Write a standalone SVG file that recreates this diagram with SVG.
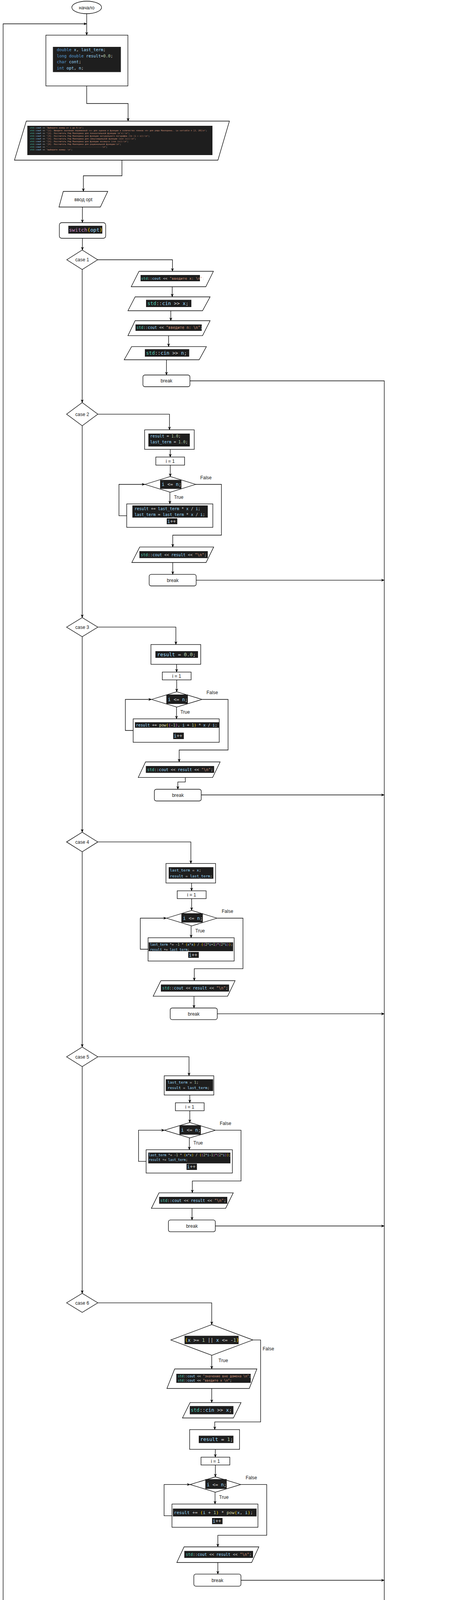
<svg xmlns="http://www.w3.org/2000/svg" width="1160" height="4882" viewBox="0 0 1160 4882">
<defs>
<style>
.ln{fill:none;stroke:#000;stroke-width:1.3}
.sh{fill:#fff;stroke:#000;stroke-width:1.3}
.cb{fill:#1e1e1e}
.t{font-family:"Liberation Sans",Arial,Helvetica,sans-serif;font-size:12px;fill:#1a1a1a;text-anchor:middle}
.c{font-family:"DejaVu Sans Mono","Liberation Mono",monospace;fill:#d4d4d4}
.ns{fill:#4ec9b0}.v{fill:#9cdcfe}.s{fill:#ce9178}.n{fill:#b5cea8}.k{fill:#569cd6}.f{fill:#dcdcaa}.kc{fill:#c586c0}.b1{fill:#ffd700}.b2{fill:#da70d6}.b3{fill:#179fff}
</style>
<marker id="a" viewBox="0 0 10 10" refX="9" refY="5" markerWidth="9" markerHeight="9" markerUnits="userSpaceOnUse" orient="auto"><path d="M0,1 L10,5 L0,9 L3,5 Z" fill="#000"/></marker>
</defs>
<rect width="1160" height="4882" fill="#fff"/>
<g id="connectors">
<path class="ln" d="M222,35 V90" marker-end="url(#a)"/>
<path class="ln" d="M222,220 V265 H328 V310" marker-end="url(#a)"/>
<path class="ln" d="M312.3,410 V450 H213.5 V490" marker-end="url(#a)"/>
<path class="ln" d="M211,530 V570" marker-end="url(#a)"/>
<path class="ln" d="M211,610 V640" marker-end="url(#a)"/>
<path class="ln" d="M250,665 H441.6 V694.5" marker-end="url(#a)"/>
<path class="ln" d="M441,734 V760" marker-end="url(#a)"/>
<path class="ln" d="M437.4,795.5 V821" marker-end="url(#a)"/>
<path class="ln" d="M431.7,859.4 V887.4" marker-end="url(#a)"/>
<path class="ln" d="M426.3,921 V960" marker-end="url(#a)"/>
<path class="ln" d="M486.4,975 H984 V4380" marker-end="url(#a)"/>
<path class="ln" d="M210.5,690 V1030.6" marker-end="url(#a)"/>
<path class="ln" d="M250.5,1060.3 H434 V1100.4" marker-end="url(#a)"/>
<path class="ln" d="M436,1150.5 V1170" marker-end="url(#a)"/>
<path class="ln" d="M436,1190.7 V1220" marker-end="url(#a)"/>
<path class="ln" d="M435,1260 V1290" marker-end="url(#a)"/>
<path class="ln" d="M501,1240 H567 V1370 H442.4 V1400.4" marker-end="url(#a)"/>
<path class="ln" d="M324.5,1320.4 H304.6 V1240 H371" marker-end="url(#a)"/>
<path class="ln" d="M442.4,1440 V1470.4" marker-end="url(#a)"/>
<path class="ln" d="M502.4,1485.3 H984" marker-end="url(#a)"/>
<path class="ln" d="M210.5,1090 V1581" marker-end="url(#a)"/>
<path class="ln" d="M250.5,1605.4 H450.4 V1650" marker-end="url(#a)"/>
<path class="ln" d="M452.3,1700.6 V1720.5" marker-end="url(#a)"/>
<path class="ln" d="M452.5,1740.4 V1771" marker-end="url(#a)"/>
<path class="ln" d="M452,1810 V1840.3" marker-end="url(#a)"/>
<path class="ln" d="M517.3,1790.5 H584 V1920 H458.8 V1950.5" marker-end="url(#a)"/>
<path class="ln" d="M341,1870 H321 V1790.5 H388" marker-end="url(#a)"/>
<path class="ln" d="M474.5,1990.3 V2001.8 H455.4 V2020.5" marker-end="url(#a)"/>
<path class="ln" d="M515.4,2035 H984" marker-end="url(#a)"/>
<path class="ln" d="M210.5,1630 V2130.4" marker-end="url(#a)"/>
<path class="ln" d="M250.5,2155.4 H488.7 V2210.5" marker-end="url(#a)"/>
<path class="ln" d="M490.6,2260.6 V2280.5" marker-end="url(#a)"/>
<path class="ln" d="M490.7,2300.4 V2330.6" marker-end="url(#a)"/>
<path class="ln" d="M489.4,2370.4 V2400.6" marker-end="url(#a)"/>
<path class="ln" d="M555.6,2350.5 H622.2 V2479.9 H497.5 V2510.5" marker-end="url(#a)"/>
<path class="ln" d="M379.2,2430 H359.3 V2350.5 H426.3" marker-end="url(#a)"/>
<path class="ln" d="M496.7,2550.3 V2580.5" marker-end="url(#a)"/>
<path class="ln" d="M556.4,2595.4 H984" marker-end="url(#a)"/>
<path class="ln" d="M210.5,2180.5 V2680.4" marker-end="url(#a)"/>
<path class="ln" d="M250.5,2705.4 H484 V2754" marker-end="url(#a)"/>
<path class="ln" d="M486,2803.3 V2823.2" marker-end="url(#a)"/>
<path class="ln" d="M486,2843.5 V2873.7" marker-end="url(#a)"/>
<path class="ln" d="M484.8,2913.1 V2943.4" marker-end="url(#a)"/>
<path class="ln" d="M551.4,2893.4 H617.2 V3023.3 H492.5 V3053.6" marker-end="url(#a)"/>
<path class="ln" d="M374.2,2973.2 H354.7 V2893.4 H421" marker-end="url(#a)"/>
<path class="ln" d="M491.7,3093.4 V3123.2" marker-end="url(#a)"/>
<path class="ln" d="M551.4,3138.5 H984" marker-end="url(#a)"/>
<path class="ln" d="M210.5,2730.5 V3311" marker-end="url(#a)"/>
<path class="ln" d="M250.5,3335.3 H542.2 V3391" marker-end="url(#a)"/>
<path class="ln" d="M542.2,3469.6 V3504.5" marker-end="url(#a)"/>
<path class="ln" d="M647.5,3430.3 H667.4 V3640.2 H549.9 V3659.8" marker-end="url(#a)"/>
<path class="ln" d="M542.2,3554.5 V3590.6" marker-end="url(#a)"/>
<path class="ln" d="M551.4,3710.3 V3730.4" marker-end="url(#a)"/>
<path class="ln" d="M551.5,3750.4 V3780.8" marker-end="url(#a)"/>
<path class="ln" d="M550.6,3820 V3850.4" marker-end="url(#a)"/>
<path class="ln" d="M616.5,3800.4 H683 V3930.4 H557.8 V3960" marker-end="url(#a)"/>
<path class="ln" d="M440.4,3880.4 H420.2 V3800.4 H486.7" marker-end="url(#a)"/>
<path class="ln" d="M557.8,4000 V4029.7" marker-end="url(#a)"/>
<path class="ln" d="M617,4045.5 H984" marker-end="url(#a)"/>
<path class="ln" d="M984,4430.5 V4454.8 H954.4 V4479.9" marker-end="url(#a)"/>
<path class="ln" d="M954.4,4540.4 V4620" marker-end="url(#a)"/>
<path class="ln" d="M749.4,4660 H8 V61 H222" marker-end="url(#a)"/>
<path class="ln" d="M954.4,4700.3 V4819.5" marker-end="url(#a)"/>
<text class="t" x="457.5" y="1277">True</text>
<text class="t" x="527.3" y="1227">False</text>
<text class="t" x="474" y="1827">True</text>
<text class="t" x="543.4" y="1777">False</text>
<text class="t" x="512.4" y="2386.5">True</text>
<text class="t" x="582.4" y="2337">False</text>
<text class="t" x="507.4" y="2930">True</text>
<text class="t" x="577.4" y="2880">False</text>
<text class="t" x="571.7" y="3487">True</text>
<text class="t" x="687.2" y="3457">False</text>
<text class="t" x="573.2" y="3837">True</text>
<text class="t" x="643.6" y="3787">False</text>
<text class="t" x="660" y="4687">True</text>
<text class="t" x="979.5" y="4737">False</text>
</g>
<g id="start">
<ellipse class="sh" cx="222" cy="19" rx="38" ry="16"/>
<text class="t" x="222" y="23.5">начало</text>
</g>
<g id="decl">
<rect class="sh" x="117.5" y="90" width="210" height="130"/>
<rect class="cb" x="135.5" y="120" width="174" height="64.5"/>
<text class="c" x="145.4" y="131" font-size="10.4"><tspan class="k">double</tspan> <tspan class="v">x</tspan>, <tspan class="v">last_term</tspan>;</text>
<text class="c" x="145.4" y="146.5" font-size="10.4"><tspan class="k">long double</tspan> <tspan class="v">result</tspan>=<tspan class="n">0.0</tspan>;</text>
<text class="c" x="145.4" y="162" font-size="10.4"><tspan class="k">char</tspan> <tspan class="v">cont</tspan>;</text>
<text class="c" x="145.4" y="177.5" font-size="10.4"><tspan class="k">int</tspan> <tspan class="v">opt</tspan>, <tspan class="v">n</tspan>;</text>
</g>
<g id="menu">
<polygon class="sh" points="67.4,310 587.5,310 558,410 37,410"/>
<rect class="cb" x="70" y="322" width="474" height="75"/>
<text class="c" x="77" y="328.5" font-size="5.3"><tspan class="ns">std</tspan>::<tspan class="v">cout</tspan> &lt;&lt; <tspan class="s">"Выберите номер от 1 до 6:\n"</tspan>;</text>
<text class="c" x="77" y="335.5" font-size="5.3"><tspan class="ns">std</tspan>::<tspan class="v">cout</tspan> &lt;&lt; <tspan class="s">"[1]. Введите значение переменной «x» для оценки и функции и количество членов «n» для ряда Маклорена.. La variable n [2, 20]\n"</tspan>;</text>
<text class="c" x="77" y="342.5" font-size="5.3"><tspan class="ns">std</tspan>::<tspan class="v">cout</tspan> &lt;&lt; <tspan class="s">"[2]. Рассчитать Ряд Маклорена для показательной функции (e^x):\n"</tspan>;</text>
<text class="c" x="77" y="349.5" font-size="5.3"><tspan class="ns">std</tspan>::<tspan class="v">cout</tspan> &lt;&lt; <tspan class="s">"[3]. Рассчитать Ряд Маклорена для функции натурального логарифма (ln (1 + x)):\n"</tspan>;</text>
<text class="c" x="77" y="356.5" font-size="5.3"><tspan class="ns">std</tspan>::<tspan class="v">cout</tspan> &lt;&lt; <tspan class="s">"[4]. Рассчитать Ряд Маклорена для синусоидальной функции (sin (x)):\n"</tspan>;</text>
<text class="c" x="77" y="363.5" font-size="5.3"><tspan class="ns">std</tspan>::<tspan class="v">cout</tspan> &lt;&lt; <tspan class="s">"[5]. Рассчитать Ряд Маклорена для функции косинуса (cos (x)):\n"</tspan>;</text>
<text class="c" x="77" y="370.5" font-size="5.3"><tspan class="ns">std</tspan>::<tspan class="v">cout</tspan> &lt;&lt; <tspan class="s">"[6]. Рассчитать Ряд Маклорена для рациональной функции:\n"</tspan>;</text>
<text class="c" x="77" y="377.5" font-size="5.3"><tspan class="ns">std</tspan>::<tspan class="v">cout</tspan> &lt;&lt; <tspan class="s">"--------------------------------------------\n"</tspan>;</text>
<text class="c" x="77" y="384.5" font-size="5.3"><tspan class="ns">std</tspan>::<tspan class="v">cout</tspan> &lt;&lt; <tspan class="s">"выберите номер: \n"</tspan>;</text>
</g>
<g id="input_opt">
<polygon class="sh" points="162,490 276,490 257,530 151,530"/>
<text class="t" x="213.5" y="514.5">ввод opt</text>
</g>
<g id="switch">
<rect class="sh" x="152" y="570" width="118.6" height="40" rx="6"/>
<rect class="cb" x="175" y="578" width="87" height="20"/>
<text class="c" x="176.5" y="592.5" font-size="13"><tspan class="kc">switch</tspan><tspan class="b1">(</tspan><tspan class="v">opt</tspan><tspan class="b1">)</tspan></text>
</g>
<g id="case1">
<polygon class="sh" points="171,665 210.5,640 250,665 210.5,690"/>
<text class="t" x="210.5" y="669">case 1</text>
</g>
<g id="c1_out_x">
<polygon class="sh" points="356,694.5 546.5,694.5 527,734 336,734"/>
<rect class="cb" x="360" y="704" width="152" height="16"/>
<text class="c" x="361.5" y="715.5" font-size="9.3"><tspan class="ns">std</tspan>::<tspan class="v">cout</tspan> &lt;&lt; <tspan class="s">"введите x: \n"</tspan>;</text>
</g>
<g id="c1_in_x">
<polygon class="sh" points="346,760 538,760 518.6,795.5 327.6,795.5"/>
<rect class="cb" x="374" y="767.5" width="116" height="18.5"/>
<text class="c" x="377.5" y="781" font-size="12.5"><tspan class="ns">std</tspan>::<tspan class="v">cin</tspan> &gt;&gt; <tspan class="v">x</tspan>;</text>
</g>
<g id="c1_out_n">
<polygon class="sh" points="346,821 538,821 518.6,859.4 327.6,859.4"/>
<rect class="cb" x="347" y="830.6" width="169.6" height="16.4"/>
<text class="c" x="349.4" y="842.3" font-size="9.7"><tspan class="ns">std</tspan>::<tspan class="v">cout</tspan> &lt;&lt; <tspan class="s">"введите n: \n"</tspan>;</text>
</g>
<g id="c1_in_n">
<polygon class="sh" points="337,887.4 528.5,887.4 510,921 318,921"/>
<rect class="cb" x="371" y="894" width="113.5" height="19"/>
<text class="c" x="374" y="908" font-size="12.4"><tspan class="ns">std</tspan>::<tspan class="v">cin</tspan> &gt;&gt; <tspan class="v">n</tspan>;</text>
</g>
<g id="break1">
<rect class="sh" x="366" y="960" width="120.4" height="30" rx="5"/>
<text class="t" x="426.3" y="979">break</text>
</g>
<g id="case2">
<polygon class="sh" points="170.5,1060.3 210.5,1030.6 250.5,1060.3 210.5,1090"/>
<text class="t" x="210.5" y="1064.5">case 2</text>
</g>
<g id="c2_init">
<rect class="sh" x="370.4" y="1100.4" width="127" height="50"/>
<rect class="cb" x="380" y="1110" width="106" height="33"/>
<text class="c" x="384.6" y="1120" font-size="10"><tspan class="v">result</tspan> = <tspan class="n">1.0</tspan>;</text>
<text class="c" x="384.6" y="1135.3" font-size="10"><tspan class="v">last_term</tspan> = <tspan class="n">1.0</tspan>;</text>
</g>
<g id="c2_i">
<rect class="sh" x="399" y="1170" width="73.6" height="20.7"/>
<text class="t" x="436" y="1184.5">i = 1</text>
</g>
<g id="c2_cond">
<polygon class="sh" points="371,1240 436,1220 501,1240 436,1260"/>
<rect class="cb" x="410" y="1228.5" width="54.5" height="23"/>
<text class="c" x="414" y="1244.2" font-size="12"><tspan class="v">i</tspan> &lt;= <tspan class="v">n</tspan>;</text>
</g>
<g id="c2_body">
<rect class="sh" x="324.5" y="1290" width="220.5" height="60"/>
<rect class="cb" x="339" y="1294" width="193" height="31"/>
<text class="c" x="344.4" y="1305.5" font-size="10"><tspan class="v">result</tspan> += <tspan class="v">last_term</tspan> * <tspan class="v">x</tspan> / <tspan class="v">i</tspan>;</text>
<text class="c" x="344.4" y="1321" font-size="10"><tspan class="v">last_term</tspan> = <tspan class="v">last_term</tspan> * <tspan class="v">x</tspan> / <tspan class="v">i</tspan>;</text>
<rect class="cb" x="427" y="1327" width="27" height="15"/>
<text class="c" x="428.5" y="1338.5" font-size="12"><tspan class="v">i</tspan>++</text>
</g>
<g id="c2_out">
<polygon class="sh" points="357.8,1400.4 547.2,1400.4 527.7,1440 337.5,1440"/>
<rect class="cb" x="357" y="1411" width="175" height="17.7"/>
<text class="c" x="360.5" y="1423.5" font-size="10"><tspan class="ns">std</tspan>::<tspan class="v">cout</tspan> &lt;&lt; <tspan class="v">result</tspan> &lt;&lt; <tspan class="s">"\n"</tspan>;</text>
</g>
<g id="break2">
<rect class="sh" x="382" y="1470.4" width="120.4" height="29.6" rx="5"/>
<text class="t" x="442.2" y="1489.5">break</text>
</g>
<g id="case3">
<polygon class="sh" points="170.5,1605.5 210.5,1581 250.5,1605.5 210.5,1630"/>
<text class="t" x="210.5" y="1609.5">case 3</text>
</g>
<g id="c3_init">
<rect class="sh" x="386.5" y="1650" width="127.5" height="50.6"/>
<rect class="cb" x="398" y="1667" width="109" height="17"/>
<text class="c" x="402.6" y="1680" font-size="12.6"><tspan class="v">result</tspan> = <tspan class="n">0.0</tspan>;</text>
</g>
<g id="c3_i">
<rect class="sh" x="415.6" y="1720.5" width="73.8" height="20"/>
<text class="t" x="452.5" y="1734.5">i = 1</text>
</g>
<g id="c3_cond">
<polygon class="sh" points="388,1790.5 452.6,1771 517.3,1790.5 452.6,1810"/>
<rect class="cb" x="426" y="1778" width="55" height="24"/>
<text class="c" x="430" y="1794.5" font-size="12"><tspan class="v">i</tspan> &lt;= <tspan class="v">n</tspan>;</text>
</g>
<g id="c3_body">
<rect class="sh" x="341" y="1840.3" width="220.4" height="60"/>
<rect class="cb" x="345.5" y="1849" width="216" height="14"/>
<text class="c" x="348" y="1859.5" font-size="9.9"><tspan class="v">result</tspan> += <tspan class="f">pow</tspan><tspan class="b1">(</tspan><tspan class="b2">(</tspan>-<tspan class="n">1</tspan><tspan class="b2">)</tspan>, <tspan class="v">i</tspan> + <tspan class="n">1</tspan><tspan class="b1">)</tspan> * <tspan class="v">x</tspan> / <tspan class="v">i</tspan>;</text>
<rect class="cb" x="443.5" y="1875.5" width="27.2" height="16.5"/>
<text class="c" x="445" y="1888" font-size="12"><tspan class="v">i</tspan>++</text>
</g>
<g id="c3_out">
<polygon class="sh" points="372.7,1950.5 563.7,1950.5 544.5,1990.3 354,1990.3"/>
<rect class="cb" x="373.5" y="1961" width="174.8" height="17.5"/>
<text class="c" x="377" y="1973.5" font-size="10"><tspan class="ns">std</tspan>::<tspan class="v">cout</tspan> &lt;&lt; <tspan class="v">result</tspan> &lt;&lt; <tspan class="s">"\n"</tspan>;</text>
</g>
<g id="break3">
<rect class="sh" x="395.3" y="2020.5" width="120" height="30" rx="5"/>
<text class="t" x="455.4" y="2039.5">break</text>
</g>
<g id="case4">
<polygon class="sh" points="170.5,2155.4 210.5,2130.4 250.5,2155.4 210.5,2180.5"/>
<text class="t" x="210.5" y="2159.5">case 4</text>
</g>
<g id="c4_init">
<rect class="sh" x="425" y="2210.5" width="127" height="50"/>
<rect class="cb" x="432" y="2220" width="114.4" height="29.5"/>
<text class="c" x="435" y="2231" font-size="9.5"><tspan class="v">last_term</tspan> = <tspan class="v">x</tspan>;</text>
<text class="c" x="435" y="2245.5" font-size="9.5"><tspan class="v">result</tspan> = <tspan class="v">last_term</tspan>;</text>
</g>
<g id="c4_i">
<rect class="sh" x="453.8" y="2280.5" width="74" height="20"/>
<text class="t" x="490.7" y="2294.5">i = 1</text>
</g>
<g id="c4_cond">
<polygon class="sh" points="426.3,2350.5 491,2330.6 555.6,2350.5 491,2370.4"/>
<rect class="cb" x="464.5" y="2338" width="54.8" height="23.6"/>
<text class="c" x="468.5" y="2354.5" font-size="12"><tspan class="v">i</tspan> &lt;= <tspan class="v">n</tspan>;</text>
</g>
<g id="c4_body">
<rect class="sh" x="379.2" y="2400.6" width="220.4" height="59.7"/>
<rect class="cb" x="380.7" y="2412.5" width="216.3" height="22.5"/>
<text class="c" x="384.2" y="2421" font-size="8.4"><tspan class="v">last_term</tspan> *= -<tspan class="n">1</tspan> * <tspan class="b1">(</tspan><tspan class="v">x</tspan>*<tspan class="v">x</tspan><tspan class="b1">)</tspan> / <tspan class="b1">(</tspan><tspan class="b2">(</tspan><tspan class="n">2</tspan>*<tspan class="v">i</tspan>+<tspan class="n">1</tspan><tspan class="b2">)</tspan>*<tspan class="b2">(</tspan><tspan class="n">2</tspan>*<tspan class="v">i</tspan><tspan class="b2">)</tspan><tspan class="b1">)</tspan>;</text>
<text class="c" x="384.2" y="2433.5" font-size="8.4"><tspan class="v">result</tspan> += <tspan class="v">last_term</tspan>;</text>
<rect class="cb" x="482" y="2437" width="27" height="15"/>
<text class="c" x="483.5" y="2448.5" font-size="12"><tspan class="v">i</tspan>++</text>
</g>
<g id="c4_out">
<polygon class="sh" points="412,2510.5 602,2510.5 582.8,2550.3 392.2,2550.3"/>
<rect class="cb" x="412" y="2520.4" width="174.6" height="18"/>
<text class="c" x="415.5" y="2533" font-size="10"><tspan class="ns">std</tspan>::<tspan class="v">cout</tspan> &lt;&lt; <tspan class="v">result</tspan> &lt;&lt; <tspan class="s">"\n"</tspan>;</text>
</g>
<g id="break4">
<rect class="sh" x="435.8" y="2580.5" width="120.6" height="29.8" rx="5"/>
<text class="t" x="496" y="2599.5">break</text>
</g>
<g id="case5">
<polygon class="sh" points="170.5,2705.5 210.5,2680.4 250.5,2705.5 210.5,2730.5"/>
<text class="t" x="210.5" y="2709.5">case 5</text>
</g>
<g id="c5_init">
<rect class="sh" x="420.5" y="2754" width="127" height="49.3"/>
<rect class="cb" x="424.4" y="2763" width="121.3" height="30"/>
<text class="c" x="429.3" y="2773.8" font-size="9.4"><tspan class="v">last_term</tspan> = <tspan class="n">1</tspan>;</text>
<text class="c" x="429.3" y="2788" font-size="9.4"><tspan class="v">result</tspan> = <tspan class="v">last_term</tspan>;</text>
</g>
<g id="c5_i">
<rect class="sh" x="449.2" y="2823.2" width="73.5" height="20.3"/>
<text class="t" x="486" y="2837.5">i = 1</text>
</g>
<g id="c5_cond">
<polygon class="sh" points="421,2893.4 486,2873.7 551.4,2893.4 486,2913.1"/>
<rect class="cb" x="459.6" y="2880.6" width="54.7" height="24.1"/>
<text class="c" x="463.5" y="2897.3" font-size="12"><tspan class="v">i</tspan> &lt;= <tspan class="v">n</tspan>;</text>
</g>
<g id="c5_body">
<rect class="sh" x="374.2" y="2943.4" width="220.8" height="59.6"/>
<rect class="cb" x="379.6" y="2950.6" width="210.4" height="27.6"/>
<text class="c" x="380.7" y="2960" font-size="8.3"><tspan class="v">last_term</tspan> *= -<tspan class="n">1</tspan> * <tspan class="b1">(</tspan><tspan class="v">x</tspan>*<tspan class="v">x</tspan><tspan class="b1">)</tspan> / <tspan class="b1">(</tspan><tspan class="b2">(</tspan><tspan class="n">2</tspan>*<tspan class="v">i</tspan>-<tspan class="n">1</tspan><tspan class="b2">)</tspan>*<tspan class="b2">(</tspan><tspan class="n">2</tspan>*<tspan class="v">i</tspan><tspan class="b2">)</tspan><tspan class="b1">)</tspan>;</text>
<text class="c" x="380.7" y="2972" font-size="8.3"><tspan class="v">result</tspan> += <tspan class="v">last_term</tspan>;</text>
<rect class="cb" x="477.6" y="2979" width="26.7" height="16"/>
<text class="c" x="479" y="2991" font-size="12"><tspan class="v">i</tspan>++</text>
</g>
<g id="c5_out">
<polygon class="sh" points="407.1,3053.6 597.3,3053.6 577.8,3093.4 387.6,3093.4"/>
<rect class="cb" x="407.5" y="3064" width="174.5" height="17.5"/>
<text class="c" x="410.5" y="3076.5" font-size="10"><tspan class="ns">std</tspan>::<tspan class="v">cout</tspan> &lt;&lt; <tspan class="v">result</tspan> &lt;&lt; <tspan class="s">"\n"</tspan>;</text>
</g>
<g id="break5">
<rect class="sh" x="431.3" y="3123.2" width="120.1" height="30.2" rx="5"/>
<text class="t" x="491.4" y="3142.5">break</text>
</g>
<g id="case6">
<polygon class="sh" points="170.5,3335.3 210.5,3311 250.5,3335.3 210.5,3359.8"/>
<text class="t" x="210.5" y="3339.5">case 6</text>
</g>
<g id="c6_domain">
<polygon class="sh" points="437.4,3430.3 542.4,3391 647.5,3430.3 542.4,3469.6"/>
<rect class="cb" x="472.6" y="3419.6" width="138.4" height="21.4"/>
<text class="c" x="473.5" y="3434.5" font-size="12.1"><tspan class="b1">(</tspan><tspan class="v">x</tspan> &gt;= <tspan class="n">1</tspan> || <tspan class="v">x</tspan> &lt;= -<tspan class="n">1</tspan><tspan class="b1">)</tspan></text>
</g>
<g id="c6_msg">
<polygon class="sh" points="447.3,3504.5 657.8,3504.5 638.3,3554.5 427.4,3554.5"/>
<rect class="cb" x="451.5" y="3517" width="190.5" height="23"/>
<text class="c" x="455.4" y="3525.8" font-size="8.2"><tspan class="ns">std</tspan>::<tspan class="v">cout</tspan> &lt;&lt; <tspan class="s">"значение вне домена \n"</tspan>;</text>
<text class="c" x="455.4" y="3537.4" font-size="8.2"><tspan class="ns">std</tspan>::<tspan class="v">cout</tspan> &lt;&lt; <tspan class="s">"введите x \n"</tspan>;</text>
</g>
<g id="c6_in_x">
<polygon class="sh" points="486.7,3590.6 617.2,3590.6 597.7,3630 467.2,3630"/>
<rect class="cb" x="486" y="3599.5" width="111.7" height="21"/>
<text class="c" x="488.3" y="3614" font-size="12.5"><tspan class="ns">std</tspan>::<tspan class="v">cin</tspan> &gt;&gt; <tspan class="v">x</tspan>;</text>
</g>
<g id="c6_init">
<rect class="sh" x="485.6" y="3659.8" width="127.8" height="50.5"/>
<rect class="cb" x="509" y="3675.4" width="88.7" height="18.8"/>
<text class="c" x="512.8" y="3689" font-size="12.7"><tspan class="v">result</tspan> = <tspan class="n">1</tspan>;</text>
</g>
<g id="c6_i">
<rect class="sh" x="514.7" y="3730.4" width="73.8" height="20"/>
<text class="t" x="551.6" y="3744.5">i = 1</text>
</g>
<g id="c6_cond">
<polygon class="sh" points="486.7,3800.4 551.6,3780.8 616.5,3800.4 551.6,3820"/>
<rect class="cb" x="525.8" y="3786.6" width="54.7" height="25"/>
<text class="c" x="529.5" y="3804.5" font-size="12"><tspan class="v">i</tspan> &lt;= <tspan class="v">n</tspan>;</text>
</g>
<g id="c6_body">
<rect class="sh" x="440.4" y="3850.4" width="220.1" height="59.4"/>
<rect class="cb" x="442.7" y="3862" width="214.3" height="20"/>
<text class="c" x="445.4" y="3876" font-size="11.2"><tspan class="v">result</tspan> += <tspan class="b1">(</tspan><tspan class="v">i</tspan> + <tspan class="n">1</tspan><tspan class="b1">)</tspan> * <tspan class="f">pow</tspan><tspan class="b1">(</tspan><tspan class="v">x</tspan>, <tspan class="v">i</tspan><tspan class="b1">)</tspan>;</text>
<rect class="cb" x="543" y="3886" width="26.8" height="15.8"/>
<text class="c" x="544.5" y="3898" font-size="12"><tspan class="v">i</tspan>++</text>
</g>
<g id="c6_out">
<polygon class="sh" points="471.3,3960 662.9,3960 644.4,4000 452.8,4000"/>
<rect class="cb" x="472" y="3970.4" width="176" height="17.8"/>
<text class="c" x="475.7" y="3983" font-size="10"><tspan class="ns">std</tspan>::<tspan class="v">cout</tspan> &lt;&lt; <tspan class="v">result</tspan> &lt;&lt; <tspan class="s">"\n"</tspan>;</text>
</g>
<g id="break6">
<rect class="sh" x="496.4" y="4029.7" width="120.6" height="30.9" rx="5"/>
<text class="t" x="556.7" y="4049.5">break</text>
</g>
<g id="ask">
<polygon class="sh" points="845.6,4379.8 1139.3,4379.8 1119.4,4430.5 830,4430.5"/>
<rect class="cb" x="849.3" y="4395" width="270" height="14.5"/>
<text class="c" x="852.3" y="4406" font-size="10.3"><tspan class="ns">std</tspan>::<tspan class="v">cout</tspan> &lt;&lt; <tspan class="s">"хотите продолждить </tspan><tspan class="b1">[</tspan><tspan class="s">Y|N</tspan><tspan class="b1">]</tspan><tspan class="s">?\n"</tspan>;</text>
</g>
<g id="in_cont">
<polygon class="sh" points="867,4479.9 1059.4,4479.9 1041,4540.4 849.3,4540.4"/>
<rect class="cb" x="889.3" y="4499.6" width="136.7" height="19.7"/>
<text class="c" x="893.7" y="4513.5" font-size="12.7"><tspan class="ns">std</tspan>::<tspan class="v">cin</tspan> &gt;&gt; <tspan class="v">cont</tspan>;</text>
</g>
<g id="repeat">
<polygon class="sh" points="749.4,4660 954.4,4620 1159.5,4660 954.4,4700.3"/>
<rect class="cb" x="853.7" y="4647.7" width="200.5" height="22.3"/>
<text class="c" x="856" y="4663.5" font-size="12.7"><tspan class="v">cont</tspan> == <tspan class="s">'y'</tspan> || <tspan class="v">cont</tspan> == <tspan class="s">'Y'</tspan></text>
</g>
<g id="done">
<polygon class="sh" points="865.6,4819.5 1107.5,4819.5 1087.5,4880 847.8,4880"/>
<rect class="cb" x="879.6" y="4837.2" width="178.4" height="24.8"/>
<text class="c" x="880.4" y="4854" font-size="13.4"><tspan class="ns">std</tspan>::<tspan class="v">cout</tspan> &lt;&lt; <tspan class="s">"всё!\n"</tspan>;</text>
</g>
</svg>
